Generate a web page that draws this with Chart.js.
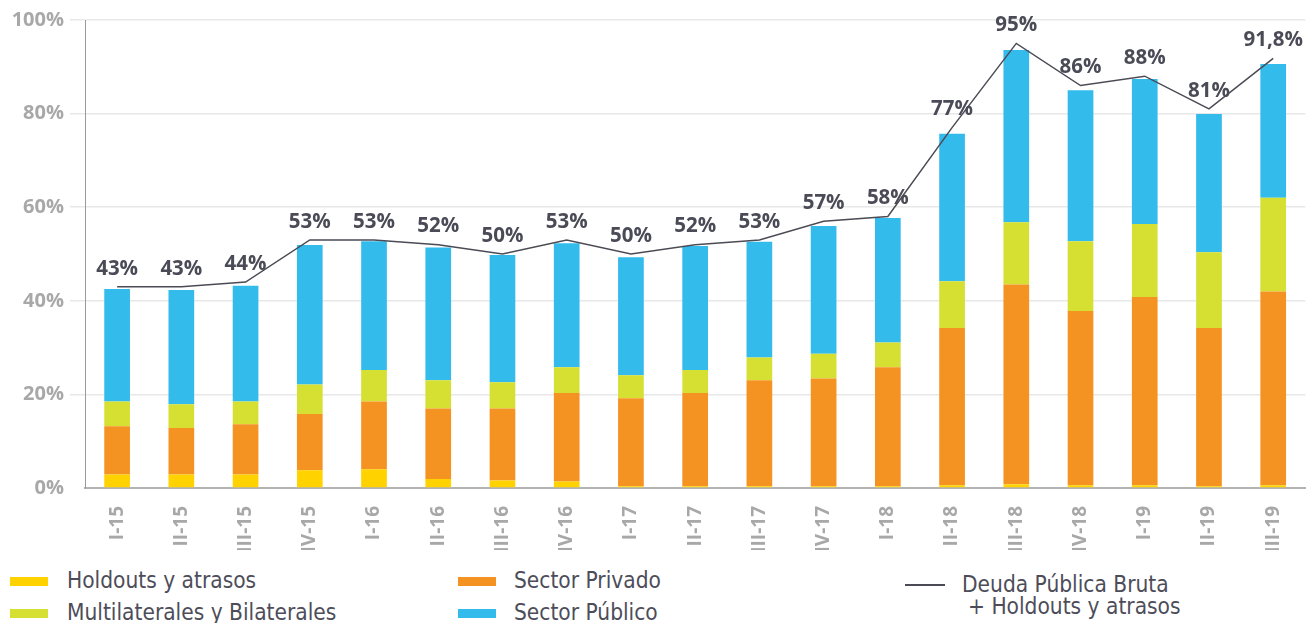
<!DOCTYPE html>
<html lang="es">
<head>
<meta charset="utf-8">
<title>Deuda Pública Bruta</title>
<script src="https://cdn.jsdelivr.net/npm/chart.js@4/dist/chart.umd.min.js"></script>
<style>
  html, body { margin: 0; padding: 0; background: #fff; overflow: hidden; }
  #wrap { position: relative; width: 1306px; height: 623px; }
  #chartBox { position: absolute; left: 0; top: 0; width: 1306px; height: 550px; }
  .leg { position: absolute; font-family: "DejaVu Sans Condensed", "Liberation Sans Narrow", sans-serif;
         font-size: 22.5px; color: #4d4d59; line-height: 22px; white-space: nowrap; }
  .sw { position: absolute; width: 38px; height: 9px; }
  .ln { position: absolute; width: 40px; height: 1.5px; background: #4b4b55; }
</style>
</head>
<body>
<div id="wrap">
  <div id="chartBox"><canvas id="deuda"></canvas></div>

  <div class="sw" style="left:10px; top:577px; background:#FFD200"></div>
  <div class="leg" style="left:67px; top:569px">Holdouts y atrasos</div>
  <div class="sw" style="left:10px; top:609px; background:#D6E032"></div>
  <div class="leg" style="left:67px; top:601px">Multilaterales y Bilaterales</div>

  <div class="sw" style="left:458px; top:577px; background:#F59322"></div>
  <div class="leg" style="left:514px; top:569px">Sector Privado</div>
  <div class="sw" style="left:458px; top:609px; background:#33BBEC"></div>
  <div class="leg" style="left:514px; top:601px">Sector Público</div>

  <div class="ln" style="left:905px; top:584px"></div>
  <div class="leg" style="left:962px; top:573px">Deuda Pública Bruta</div>
  <div class="leg" style="left:968px; top:595px">+ Holdouts y atrasos</div>
</div>

<script>
// trimestres
const trimestres = ["I-15", "II-15", "III-15", "IV-15", "I-16", "II-16", "III-16", "IV-16",
  "I-17", "II-17", "III-17", "IV-17", "I-18", "II-18", "III-18", "IV-18", "I-19", "II-19", "III-19"];

// % del PBI por tenedor
const holdouts = [2.9, 2.9, 2.9, 3.8, 4.0, 1.9, 1.6, 1.4, 0.4, 0.4, 0.4, 0.4, 0.4, 0.6, 0.8, 0.6, 0.6, 0.4, 0.6];
const privado = [10.3, 9.9, 10.7, 12.0, 14.5, 15.1, 15.4, 18.9, 18.8, 19.9, 22.6, 23.0, 25.4, 33.6, 42.7, 37.2, 40.2, 33.8, 41.4];
const multilaterales = [5.3, 5.1, 4.9, 6.3, 6.7, 6.0, 5.6, 5.5, 4.9, 4.9, 4.9, 5.3, 5.3, 10.0, 13.3, 14.9, 15.6, 16.2, 20.0];
const publico = [24.0, 24.4, 24.7, 29.8, 27.5, 28.4, 27.2, 26.5, 25.2, 26.5, 24.7, 27.3, 26.6, 31.5, 36.8, 32.3, 31.0, 29.5, 28.6];

// total deuda bruta + holdouts
const deudaTotal = [43, 43, 44, 53, 53, 52, 50, 53, 50, 52, 53, 57, 58, 77, 95, 86, 88, 81, 91.8];

const yTicks = [0, 20, 40, 60, 80, 100];

const fmtPct = (v) => String(v).replace(".", ",") + "%";

// etiquetas sobre la linea
const etiquetasLinea = {
  id: "etiquetasLinea",
  afterDatasetsDraw(chart) {
    const ctx = chart.ctx;
    const meta = chart.getDatasetMeta(4);
    ctx.save();
    ctx.font = "bold 20.5px 'Open Sans', sans-serif";
    ctx.fillStyle = "#4b4b57";
    ctx.textAlign = "center";
    ctx.textBaseline = "middle";
    meta.data.forEach((pt, i) => {
      ctx.fillText(fmtPct(deudaTotal[i]), pt.x, pt.y - 18);
    });
    ctx.restore();
  }
};

Chart.defaults.font.family = "'Open Sans', sans-serif";

new Chart(document.getElementById("deuda"), {
  type: "bar",
  data: {
    labels: trimestres,
    datasets: [
      { label: "Holdouts y atrasos", data: holdouts, backgroundColor: "#FFD200", order: 1 },
      { label: "Sector Privado", data: privado, backgroundColor: "#F59322", order: 1 },
      { label: "Multilaterales y Bilaterales", data: multilaterales, backgroundColor: "#D6E032", order: 1 },
      { label: "Sector Público", data: publico, backgroundColor: "#33BBEC", order: 1 },
      {
        type: "line",
        label: "Deuda Pública Bruta + Holdouts y atrasos",
        data: deudaTotal,
        borderColor: "#4b4b55",
        borderWidth: 1.5,
        pointRadius: 0,
        tension: 0,
        order: 0
      }
    ]
  },
  options: {
    responsive: true,
    maintainAspectRatio: false,
    animation: false,
    layout: { padding: { top: 20, right: 0, bottom: 0, left: 0 } },
    datasets: { bar: { categoryPercentage: 1, barPercentage: 0.4 } },
    plugins: { legend: { display: false }, tooltip: { enabled: false } },
    scales: {
      x: {
        stacked: true,
        grid: { display: false },
        border: { display: true, color: "#b3b3b3", width: 2 },
        ticks: { minRotation: 90, maxRotation: 90, color: "#a8a8a8", padding: 10,
                 font: { size: 19, weight: "bold" } },
        afterFit(s) { s.height = 62; }
      },
      y: {
        stacked: true,
        min: 0,
        max: 100,
        afterBuildTicks(s) { s.ticks = yTicks.map(v => ({ value: v })); },
        ticks: { callback: (v) => v + "%", color: "#a8a8a8", padding: 6,
                 font: { size: 20, weight: "bold" } },
        grid: {
          color: (c) => (c.tick && c.tick.value === 0 ? "rgba(0,0,0,0)" : "#e8e8e8"),
          lineWidth: 1.5,
          tickLength: 15
        },
        border: { display: true, color: "#9a9a9a", width: 1 },
        afterFit(s) { s.width = 85; }
      }
    }
  },
  plugins: [etiquetasLinea]
});
</script>
</body>
</html>
